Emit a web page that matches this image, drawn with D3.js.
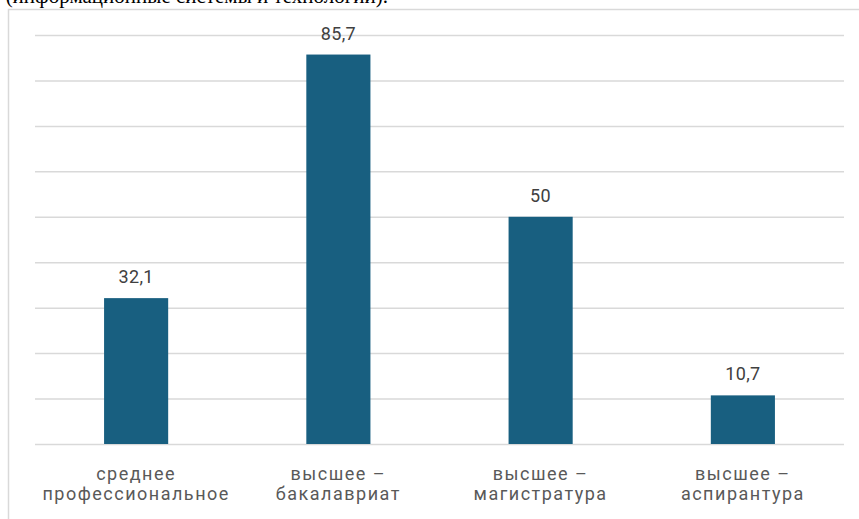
<!DOCTYPE html>
<html>
<head>
<meta charset="utf-8">
<script src="https://cdn.jsdelivr.net/npm/d3@7"></script>
<style>
  html, body { margin: 0; padding: 0; background: #fff; }
  svg { display: block; }
</style>
</head>
<body>
<svg id="chart" width="859" height="519"></svg>
<script>
const categories = [
  ["среднее", "профессиональное"],
  ["высшее –", "бакалавриат"],
  ["высшее –", "магистратура"],
  ["высшее –", "аспирантура"]
];
const values = [32.1, 85.7, 50, 10.7];
const valueLabels = ["32,1", "85,7", "50", "10,7"];
const yTicks = [0, 10, 20, 30, 40, 50, 60, 70, 80, 90];
const captionText = "(информационные системы и технологии).";

const W = 859, H = 519;
const svg = d3.select("#chart");
const font = "Roboto, 'Open Sans', Arial, sans-serif";

// caption text cut off at top (from surrounding document)
svg.append("text")
  .attr("x", 388).attr("y", 3)
  .attr("text-anchor", "end")
  .attr("font-family", "'Liberation Serif', 'Times New Roman', serif")
  .attr("font-size", 21)
  .attr("fill", "#000")
  .text(captionText);

// chart frame
svg.append("path")
  .attr("d", `M8.5,${H + 2} V9.5 H${W + 2}`)
  .attr("fill", "none")
  .attr("stroke", "#d9d9d9")
  .attr("stroke-width", 1.5);

const x0 = 35, x1 = 844, yBase = 444, yTop = 35;
const x = d3.scaleBand().domain(d3.range(categories.length)).range([x0, x1]).paddingInner(0.683).paddingOuter(0.3415);
const y = d3.scaleLinear().domain([0, 90]).range([yBase, yTop]);

// gridlines
const grid = svg.append("g").attr("transform", `translate(${x0},0)`)
  .call(d3.axisLeft(y).tickValues(yTicks).tickSize(-(x1 - x0)).tickFormat(""));
grid.select(".domain").remove();
grid.selectAll(".tick line").attr("stroke", "#d9d9d9").attr("stroke-width", 1.5);

// bars
svg.append("g").selectAll("rect").data(values).join("rect")
  .attr("x", (d, i) => x(i))
  .attr("width", x.bandwidth())
  .attr("y", d => y(d))
  .attr("height", d => y(0) - y(d))
  .attr("fill", "#185f80");

// value labels
svg.append("g").selectAll("text").data(values).join("text")
  .attr("x", (d, i) => x(i) + x.bandwidth() / 2)
  .attr("y", d => y(d) - 15)
  .attr("text-anchor", "middle")
  .attr("font-family", font)
  .attr("font-size", 18)
  .attr("letter-spacing", 0.4)
  .attr("fill", "#404040")
  .text((d, i) => valueLabels[i]);

// category labels
const cat = svg.append("g").selectAll("text").data(categories).join("text")
  .attr("text-anchor", "middle")
  .attr("font-family", font)
  .attr("font-size", 18)
  .attr("letter-spacing", 1.5)
  .attr("fill", "#595959");
cat.each(function(d, i) {
  const t = d3.select(this);
  const cx = x(i) + x.bandwidth() / 2;
  d.forEach((line, k) => {
    t.append("tspan").attr("x", cx).attr("y", 480 + k * 19.5).text(line);
  });
});
</script>
</body>
</html>
